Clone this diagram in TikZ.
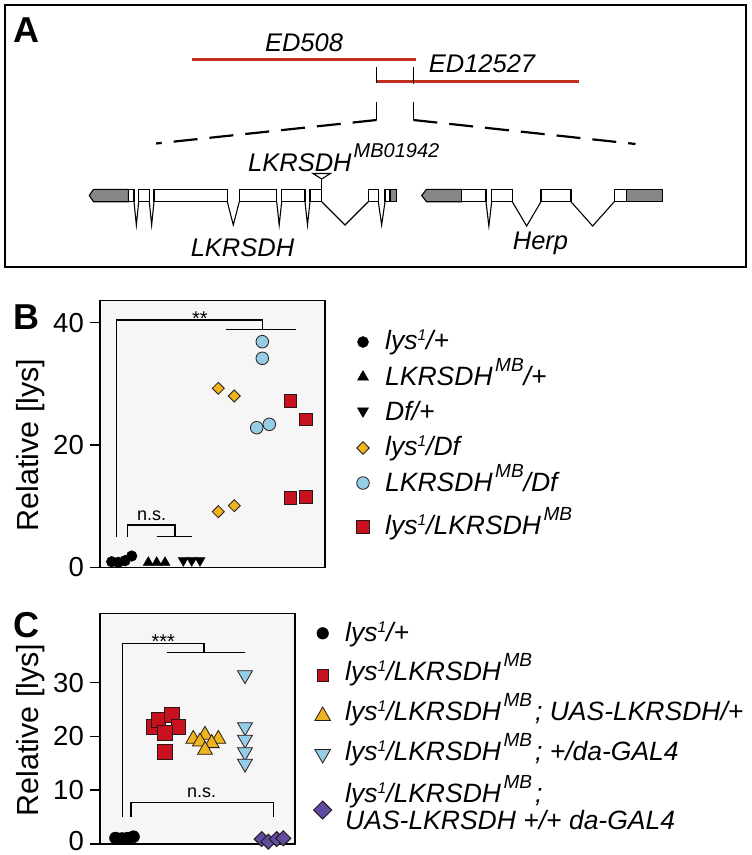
\documentclass[tikz,border=0pt]{standalone}
\usepackage{fontspec}
\setmainfont{Liberation Sans}
\definecolor{brick}{RGB}{192,48,28}
\definecolor{exgrey}{RGB}{135,135,135}
\definecolor{bgplot}{RGB}{246,246,246}
\definecolor{mred}{RGB}{200,16,30}
\definecolor{myel}{RGB}{236,180,30}
\definecolor{mblu}{RGB}{150,205,230}
\definecolor{mpur}{RGB}{95,75,160}
\definecolor{mline}{RGB}{40,25,25}
\newcommand\mysupone[1]{\raisebox{8.5pt}{\fontsize{15.5}{15.5}\selectfont #1}}
\newcommand\mysupmb[1]{\kern2.5pt\raisebox{13.5pt}{\fontsize{19}{19}\selectfont #1}}
\newcommand\MkCirc[3]{\path[#1] (#2) circle[radius=#3];}
\newcommand\MkSq[3]{\path[#1,shift={(#2)}] ({-#3},{-#3}) rectangle (#3,#3);}
\newcommand\MkUp[3]{\path[#1,shift={(#2)}] (0,{-1.155*#3}) -- (#3,{0.577*#3}) -- ({-#3},{0.577*#3}) -- cycle;}
\newcommand\MkDn[3]{\path[#1,shift={(#2)}] (0,{1.155*#3}) -- (#3,{-0.577*#3}) -- ({-#3},{-0.577*#3}) -- cycle;}
\newcommand\MkDia[3]{\path[#1,shift={(#2)}] (0,{-#3}) -- (#3,0) -- (0,#3) -- ({-#3},0) -- cycle;}
\begin{document}
\begin{tikzpicture}[x=1pt,y=-1pt,
  lbl/.style={inner sep=0pt, font=\bfseries\fontsize{36}{36}\selectfont},
  gtxt/.style={inner sep=0pt, font=\itshape\fontsize{25.5}{25.5}\selectfont},
  ltxt/.style={inner sep=0pt, anchor=base west, font=\itshape\fontsize{26.5}{26.5}\selectfont},
  ticklab/.style={inner sep=0pt, anchor=east, font=\fontsize{27.5}{27.5}\selectfont},
  ylab/.style={inner sep=0pt, rotate=90, font=\fontsize{30.5}{30.5}\selectfont},
  sigtxt/.style={inner sep=0pt, anchor=base, font=\fontsize{18}{18}\selectfont},
  startxt/.style={inner sep=0pt, anchor=base, font=\fontsize{20}{20}\selectfont},
  brk/.style={line width=1.3pt},
  frame/.style={line width=1.5pt},
  gene/.style={draw=black, line width=1.1pt, line join=miter},
  mkblk/.style={fill=black, draw=black, line width=0.5pt},
  mkred/.style={fill=mred, draw=mline, line width=0.8pt},
  mkyel/.style={fill=myel, draw=mline, line width=0.8pt},
  mkblu/.style={fill=mblu, draw=mline, line width=0.8pt},
  mkpur/.style={fill=mpur, draw=mline, line width=1pt}
]
\useasboundingbox (0,0) rectangle (752,855);

% ================= Panel A =================
\draw[line width=1.3pt] (5,5) rectangle (746,267);
\node[lbl] (labA) at (26,30) {A};
\node[gtxt, anchor=base] (ed508) at (304,51.5) {ED508};
\node[gtxt, anchor=base] (ed12527) at (482,72.7) {ED12527};
\draw[brick, line width=3pt] (191.8,59) -- (416.3,59);
\draw[brick, line width=3pt] (376.5,81.7) -- (579,81.7);
\draw[line width=1.8pt] (376.5,67) -- (376.5,82.5);
\draw[line width=1.8pt] (413.4,67) -- (413.4,84);
\draw[line width=1.8pt] (376.5,102) -- (376.5,120);
\draw[line width=1.8pt] (413.4,102) -- (413.4,120);
\draw[line width=2.2pt, dash pattern=on 24pt off 12pt] (376.5,120) -- (156,143.5);
\draw[line width=2.2pt, dash pattern=on 24pt off 12pt] (413.4,120) -- (635.5,144);

% LKRSDH gene
\draw[gene, fill=exgrey] (89.3,195.5) -- (93.5,189.3) -- (128.3,189.3) -- (128.3,201.7) -- (93.5,201.7) -- cycle;
\draw[gene, fill=exgrey] (390,189.3) rectangle (396.7,201.7);
\foreach \a/\b in {128.3/134, 138.7/149.3, 154/227.3, 239.3/276.7, 281.7/305, 310/321.7, 368.3/378.3, 385/390}
  \draw[gene, fill=white] (\a,189.3) rectangle (\b,201.7);
\foreach \a/\b in {134/138.7, 149.3/154, 227.3/239.3, 276.7/281.7, 305/310, 321.7/368.3, 378.3/385}
  \draw[gene] (\a,201.7) -- ({(\a+\b)/2},225) -- (\b,201.7);
\draw[gene] (321.7,178.5) -- (321.7,189.3);
\draw[gene, fill=white] (313,173.5) -- (330.4,173.5) -- (321.7,179) -- cycle;

% Herp gene
\draw[gene, fill=exgrey] (421.7,195.5) -- (426.5,189.3) -- (461.7,189.3) -- (461.7,201.7) -- (426.5,201.7) -- cycle;
\draw[gene, fill=exgrey] (626.7,189.3) rectangle (662.7,201.7);
\foreach \a/\b in {461.7/486, 491.7/512.3, 541/571, 614.3/626.7}
  \draw[gene, fill=white] (\a,189.3) rectangle (\b,201.7);
\foreach \a/\b in {486/491.7, 512.3/541, 571/614.3}
  \draw[gene] (\a,201.7) -- ({(\a+\b)/2},226) -- (\b,201.7);

\node[gtxt, anchor=base west] (mbl) at (248,171) {LKRSDH\kern2pt\raisebox{14pt}{\fontsize{20}{20}\selectfont MB01942}};
\node[gtxt, anchor=base] (lkgene) at (242.5,256.5) {LKRSDH};
\node[gtxt, anchor=base] (herp) at (540.5,249) {Herp};

% ================= Panel B =================
\node[lbl] (labB) at (26.5,317) {B};
\fill[bgplot] (100,300.7) rectangle (325,567.3);
\draw[frame] (100,300.7) rectangle (325,567.3);
\foreach \v in {0,20,40} {
  \draw[frame] (90,{567.3-6.115*\v}) -- (100,{567.3-6.115*\v});
  \node[ticklab] at (84,{567.3-6.115*\v}) {\v};
}
\node[ylab] (ylB) at (31,445) {Relative [lys]};
% brackets
\draw[brk] (127.3,536.7) -- (127.3,525) -- (175,525) -- (175,536.7);
\draw[brk] (156.7,536.7) -- (191.7,536.7);
\node[sigtxt] (nsB) at (151.7,520) {n.s.};
\draw[brk] (116.7,536.7) -- (116.7,320) -- (262.7,320) -- (262.7,329.3);
\draw[brk] (226,329.3) -- (296,329.3);
\node[startxt] (stB) at (200,325.6) {**};
% data
\MkCirc{mkblk}{111.7,561.7}{5.3}
\MkCirc{mkblk}{118.3,562.3}{5.3}
\MkCirc{mkblk}{125,560.7}{5.3}
\MkCirc{mkblk}{131.7,556}{5.3}
\MkUp{mkblk}{148.3,562.5}{5}
\MkUp{mkblk}{156.7,562.5}{5}
\MkUp{mkblk}{165,562.5}{5}
\MkDn{mkblk}{183.3,560.5}{5}
\MkDn{mkblk}{191.7,560.5}{5}
\MkDn{mkblk}{200,560.5}{5}
\MkDia{mkyel}{218.3,388.3}{6}
\MkDia{mkyel}{234.3,396}{6}
\MkDia{mkyel}{218.3,511.7}{6}
\MkDia{mkyel}{234.3,505.7}{6}
\MkCirc{mkblu}{262.3,341.7}{6.3}
\MkCirc{mkblu}{262.3,358.3}{6.3}
\MkCirc{mkblu}{256.7,427.7}{6.3}
\MkCirc{mkblu}{269.3,424.3}{6.3}
\MkSq{mkred}{290.3,401}{6.2}
\MkSq{mkred}{306,419.3}{6.2}
\MkSq{mkred}{290.3,497.7}{6.2}
\MkSq{mkred}{306,496.7}{6.2}
% legend B
\MkCirc{mkblk}{363,342}{5.5}
\MkUp{mkblk}{363,377}{5.5}
\MkDn{mkblk}{363,411}{5.5}
\MkDia{mkyel}{363,448}{6.3}
\MkCirc{mkblu}{363,483}{6.3}
\MkSq{mkred}{363,527}{6.2}
\node[ltxt] (lgB1) at (385,349) {lys\mysupone{1}/+};
\node[ltxt] (lgB2) at (385,385) {LKRSDH\mysupmb{MB}/+};
\node[ltxt] (lgB3) at (385,420) {Df/+};
\node[ltxt] (lgB4) at (385,455) {lys\mysupone{1}/Df};
\node[ltxt] (lgB5) at (385,491) {LKRSDH\mysupmb{MB}/Df};
\node[ltxt] (lgB6) at (385,534) {lys\mysupone{1}/LKRSDH\mysupmb{MB}};

% ================= Panel C =================
\node[lbl] (labC) at (26,625) {C};
\fill[bgplot] (100,613.3) rectangle (295,844);
\draw[frame] (100,613.3) rectangle (295,844);
\foreach \v in {0,10,20,30} {
  \draw[frame] (90,{844-5.377*\v}) -- (100,{844-5.377*\v});
  \node[ticklab] at (84,{min(844-5.377*\v,841)}) {\v};
}
\node[ylab] (ylC) at (31,730) {Relative [lys]};
% brackets
\draw[brk] (122.7,816.7) -- (122.7,643.3) -- (204,643.3) -- (204,652.7);
\draw[brk] (166.7,652.7) -- (245,652.7);
\node[startxt] (stC) at (163.3,648.6) {***};
\draw[brk] (131,816.7) -- (131,802.7) -- (273.3,802.7) -- (273.3,816.7);
\node[sigtxt] (nsC) at (201.7,797.7) {n.s.};
% data
\MkCirc{mkblk}{115.5,838}{6}
\MkCirc{mkblk}{122,838.5}{6}
\MkCirc{mkblk}{128,838}{6}
\MkCirc{mkblk}{133.5,836.7}{6}
\MkSq{mkred}{153.3,726.7}{7.2}
\MkSq{mkred}{158.3,720}{7.2}
\MkSq{mkred}{171.7,715}{7.2}
\MkSq{mkred}{178.3,726.7}{7.2}
\MkSq{mkred}{165,732.7}{7.2}
\MkSq{mkred}{165,751.7}{7.2}
\MkUp{mkyel}{193.3,739}{7.5}
\MkUp{mkyel}{205,735}{7.5}
\MkUp{mkyel}{218.3,739}{7.5}
\MkUp{mkyel}{200,741.7}{7.5}
\MkUp{mkyel}{211.7,743.3}{7.5}
\MkUp{mkyel}{205,750}{7.5}
\MkDn{mkblu}{245,675}{7.5}
\MkDn{mkblu}{245,727}{7.5}
\MkDn{mkblu}{245,739.5}{7.5}
\MkDn{mkblu}{245,752}{7.5}
\MkDn{mkblu}{245,763.5}{7.5}
\MkDia{mkpur}{261.7,839}{7.5}
\MkDia{mkpur}{268.3,841.7}{7.5}
\MkDia{mkpur}{276.7,839}{7.5}
\MkDia{mkpur}{283.3,838.3}{7.5}
% legend C
\MkCirc{mkblk}{322.7,633.3}{5.8}
\MkSq{mkred}{322.7,675.5}{5.8}
\MkUp{mkyel}{322.7,716}{7.8}
\MkDn{mkblu}{322.7,754}{7.8}
\MkDia{mkpur}{322.7,810}{9}
\node[ltxt] (lgC1) at (345,641) {lys\mysupone{1}/+};
\node[ltxt] (lgC2) at (345,680) {lys\mysupone{1}/LKRSDH\mysupmb{MB}};
\node[ltxt] (lgC3) at (345,720) {lys\mysupone{1}/LKRSDH\mysupmb{MB}\kern3pt; UAS-LKRSDH/+};
\node[ltxt] (lgC4) at (345,760) {lys\mysupone{1}/LKRSDH\mysupmb{MB}\kern3pt; +/da-GAL4};
\node[ltxt] (lgC5) at (345,802) {lys\mysupone{1}/LKRSDH\mysupmb{MB}\kern3pt;};
\node[ltxt] (lgC6) at (345,829) {UAS-LKRSDH +/+ da-GAL4};
\end{tikzpicture}
\end{document}
